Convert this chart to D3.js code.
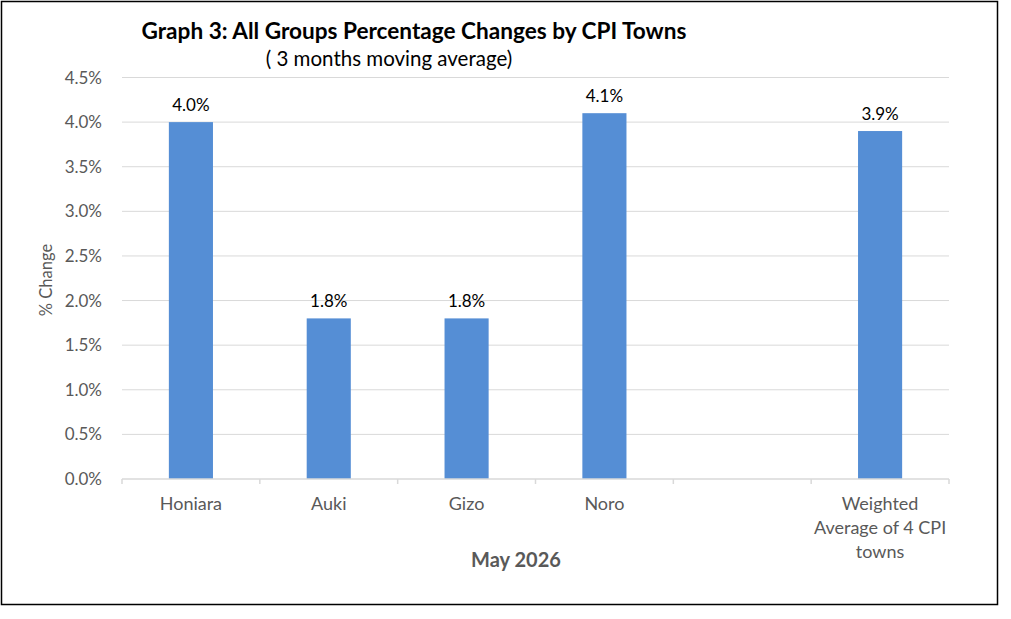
<!DOCTYPE html>
<html>
<head>
<meta charset="utf-8">
<script src="https://cdn.jsdelivr.net/npm/d3@7"></script>
<style>
  body { margin: 0; background: #fff; }
  svg text { font-family: Lato, "Open Sans", sans-serif; }
</style>
</head>
<body>
<div id="chart"></div>
<script>
// categories on the x axis (one empty slot before the weighted average)
const towns = ['Honiara', 'Auki', 'Gizo', 'Noro', '', 'Weighted Average of 4 CPI towns']
// % change, 3 months moving average (null = no bar)
const pctChange = [4.0, 1.8, 1.8, 4.1, null, 3.9]
const yTicks = [0, 0.5, 1.0, 1.5, 2.0, 2.5, 3.0, 3.5, 4.0, 4.5]
// how the long label wraps
const townLines = {'Weighted Average of 4 CPI towns': ['Weighted', 'Average of 4 CPI', 'towns']}

const width = 1011, height = 619
const margin = {top: 77.5, right: 62, bottom: 140, left: 122}

let svg = d3.select('#chart')
  .append('svg')
  .attr('width', width)
  .attr('height', height)

// outer frame
svg.append('rect')
  .attr('x', 1.5).attr('y', 1.5)
  .attr('width', 996).attr('height', 603)
  .attr('fill', '#fff')
  .attr('stroke', '#000')
  .attr('stroke-width', 1.5)

let x = d3.scaleBand()
  .domain(d3.range(towns.length))
  .range([margin.left, width - margin.right])

let y = d3.scaleLinear()
  .domain([0, 4.5])
  .range([height - margin.bottom, margin.top])

// gridlines
svg.append('g')
  .selectAll('line')
  .data(yTicks.slice(1))
  .enter().append('line')
  .attr('x1', x.range()[0]).attr('x2', x.range()[1])
  .attr('y1', d => y(d)).attr('y2', d => y(d))
  .attr('stroke', '#d9d9d9')
  .attr('stroke-width', 1)

// y tick labels
svg.append('g')
  .selectAll('text')
  .data(yTicks)
  .enter().append('text')
  .attr('x', 102)
  .attr('y', d => y(d) + 6)
  .attr('text-anchor', 'end')
  .attr('font-size', 17)
  .attr('fill', '#595959')
  .text(d => d.toFixed(1) + '%')

// bars
const barW = x.bandwidth() * 0.32
let bars = svg.append('g')
bars.selectAll('rect')
  .data(pctChange.map((v, i) => ({v, i})).filter(d => d.v != null))
  .enter().append('rect')
  .attr('x', d => x(d.i) + (x.bandwidth() - barW) / 2)
  .attr('y', d => y(d.v))
  .attr('width', barW)
  .attr('height', d => y(0) - y(d.v))
  .attr('fill', '#558ed5')

// value labels
bars.selectAll('text')
  .data(pctChange.map((v, i) => ({v, i})).filter(d => d.v != null))
  .enter().append('text')
  .attr('x', d => x(d.i) + x.bandwidth() / 2)
  .attr('y', d => y(d.v) - 11)
  .attr('text-anchor', 'middle')
  .attr('font-size', 17)
  .attr('fill', '#000')
  .text(d => d.v.toFixed(1) + '%')

// x axis line + ticks between categories
let xAxis = svg.append('g')
xAxis.append('line')
  .attr('x1', x.range()[0]).attr('x2', x.range()[1])
  .attr('y1', y(0)).attr('y2', y(0))
  .attr('stroke', '#d9d9d9').attr('stroke-width', 1.5)
xAxis.selectAll('.tick')
  .data(d3.range(towns.length + 1))
  .enter().append('line')
  .attr('x1', i => x.range()[0] + i * x.step())
  .attr('x2', i => x.range()[0] + i * x.step())
  .attr('y1', y(0)).attr('y2', y(0) + 5)
  .attr('stroke', '#d9d9d9').attr('stroke-width', 1.5)

// category labels
xAxis.selectAll('text.cat')
  .data(towns.map((t, i) => ({t, i})))
  .enter().append('text')
  .attr('class', 'cat')
  .attr('text-anchor', 'middle')
  .attr('font-size', 18)
  .attr('fill', '#595959')
  .each(function(d) {
    const lines = townLines[d.t] || [d.t]
    d3.select(this).selectAll('tspan')
      .data(lines)
      .enter().append('tspan')
      .attr('x', x(d.i) + x.bandwidth() / 2)
      .attr('y', (l, k) => 510 + k * 24)
      .text(l => l)
  })

// axis titles
svg.append('text')
  .attr('x', 516).attr('y', 567)
  .attr('text-anchor', 'middle')
  .attr('font-size', 20)
  .attr('font-weight', 'bold')
  .attr('fill', '#595959')
  .text('May 2026')

svg.append('text')
  .attr('transform', 'translate(52,280) rotate(-90)')
  .attr('text-anchor', 'middle')
  .attr('font-size', 16.5)
  .attr('fill', '#595959')
  .text('% Change')

// title
svg.append('text')
  .attr('x', 414).attr('y', 39)
  .attr('text-anchor', 'middle')
  .attr('font-size', 22.6)
  .attr('font-weight', 'bold')
  .attr('fill', '#000')
  .text('Graph 3: All Groups Percentage Changes by CPI Towns')

svg.append('text')
  .attr('x', 389).attr('y', 66)
  .attr('text-anchor', 'middle')
  .attr('font-size', 20.5)
  .attr('fill', '#000')
  .text('( 3 months moving average)')
</script>
</body>
</html>
